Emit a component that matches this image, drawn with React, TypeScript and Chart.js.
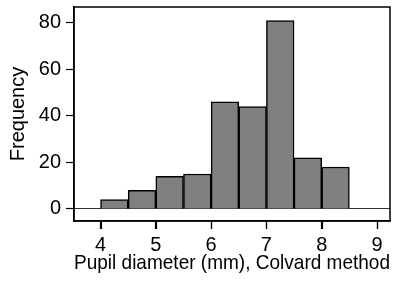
import React, { useEffect, useRef } from 'react';
import { Chart, registerables } from 'chart.js';

Chart.register(...registerables);

const binCenters = [4.25, 4.75, 5.25, 5.75, 6.25, 6.75, 7.25, 7.75, 8.25];
const frequencies = [4, 8, 14, 15, 46, 44, 81, 22, 18];
const xTickValues = [4, 5, 6, 7, 8, 9];
const yTickValues = [0, 20, 40, 60, 80];
const xTitle = 'Pupil diameter (mm), Colvard method';
const yTitle = 'Frequency';

const FONT = "'Liberation Sans', Arial, Helvetica, sans-serif";
const TICK_LEN = 8;

const framePlugin = {
  id: 'frame',
  afterDraw(chart: any) {
    const { ctx, chartArea } = chart;
    const { left, top, right, bottom } = chartArea;
    ctx.save();
    ctx.strokeStyle = '#000';
    ctx.lineWidth = 1.5;
    ctx.strokeRect(left, top, right - left, bottom - top);
    ctx.lineWidth = 1.2;
    const xs = chart.scales.x;
    xTickValues.forEach((v) => {
      const px = Math.round(xs.getPixelForValue(v)) + 0.5;
      ctx.beginPath();
      ctx.moveTo(px, bottom);
      ctx.lineTo(px, bottom + TICK_LEN);
      ctx.stroke();
    });
    ctx.restore();
  },
};

export default function App() {
  const ref = useRef<HTMLCanvasElement | null>(null);
  useEffect(() => {
    if (!ref.current) return;
    const chart = new Chart(ref.current, {
      type: 'bar',
      data: {
        datasets: [
          {
            data: binCenters.map((x, i) => ({ x, y: frequencies[i] })),
            backgroundColor: '#808080',
            borderColor: '#000',
            borderWidth: 1.5,
            barPercentage: 1,
            categoryPercentage: 1,
            grouped: false,
          } as any,
        ],
      },
      options: {
        animation: false,
        responsive: false,
        devicePixelRatio: 1,
        layout: { padding: { top: 7, right: 13, left: 0, bottom: 6 } },
        plugins: { legend: { display: false }, tooltip: { enabled: false } },
        scales: {
          x: {
            type: 'linear',
            offset: false,
            min: 3.52,
            max: 9.235,
            afterBuildTicks: (s: any) => {
              s.ticks = xTickValues.map((v) => ({ value: v }));
            },
            afterFit: (s: any) => {
              s.height = 55;
              s.paddingLeft = 0;
              s.paddingRight = 0;
            },
            ticks: {
              includeBounds: false,
              color: '#000',
              font: { family: FONT, size: 20 },
              padding: 4,
              maxRotation: 0,
              autoSkip: false,
            },
            grid: {
              offset: false,
              display: true,
              drawOnChartArea: false,
              drawTicks: true,
              tickLength: TICK_LEN,
              tickColor: '#000',
              tickWidth: 1.2,
            },
            border: { display: true, color: '#000', width: 1.5 },
            title: {
              display: true,
              text: xTitle,
              align: 'end',
              color: '#000',
              font: { family: FONT, size: 21 },
              padding: { top: 0, bottom: 0 },
            },
          },
          y: {
            type: 'linear',
            min: -5.2,
            max: 86.8,
            afterBuildTicks: (s: any) => {
              s.ticks = yTickValues.map((v) => ({ value: v }));
            },
            afterFit: (s: any) => {
              s.width = 74;
              s.paddingTop = 0;
              s.paddingBottom = 0;
            },
            ticks: {
              includeBounds: false,
              color: '#000',
              font: { family: FONT, size: 20 },
              padding: 5,
            },
            grid: {
              drawOnChartArea: true,
              drawTicks: true,
              tickLength: TICK_LEN,
              tickColor: '#000',
              tickWidth: 1.2,
              color: (ctx: any) => (ctx.tick && ctx.tick.value === 0 ? '#333' : 'rgba(0,0,0,0)'),
              lineWidth: 1,
            },
            border: { display: true, color: '#000', width: 1.5 },
            title: {
              display: true,
              text: yTitle,
              color: '#000',
              font: { family: FONT, size: 20 },
              padding: { top: 6, bottom: 0 },
            },
          },
        },
      },
      plugins: [framePlugin],
    } as any);
    return () => chart.destroy();
  }, []);
  return (
    <div style={{ position: 'fixed', left: 0, top: 0, width: 403, height: 282, background: '#fff' }}>
      <canvas ref={ref} width={403} height={282} style={{ display: 'block' }} />
    </div>
  );
}
